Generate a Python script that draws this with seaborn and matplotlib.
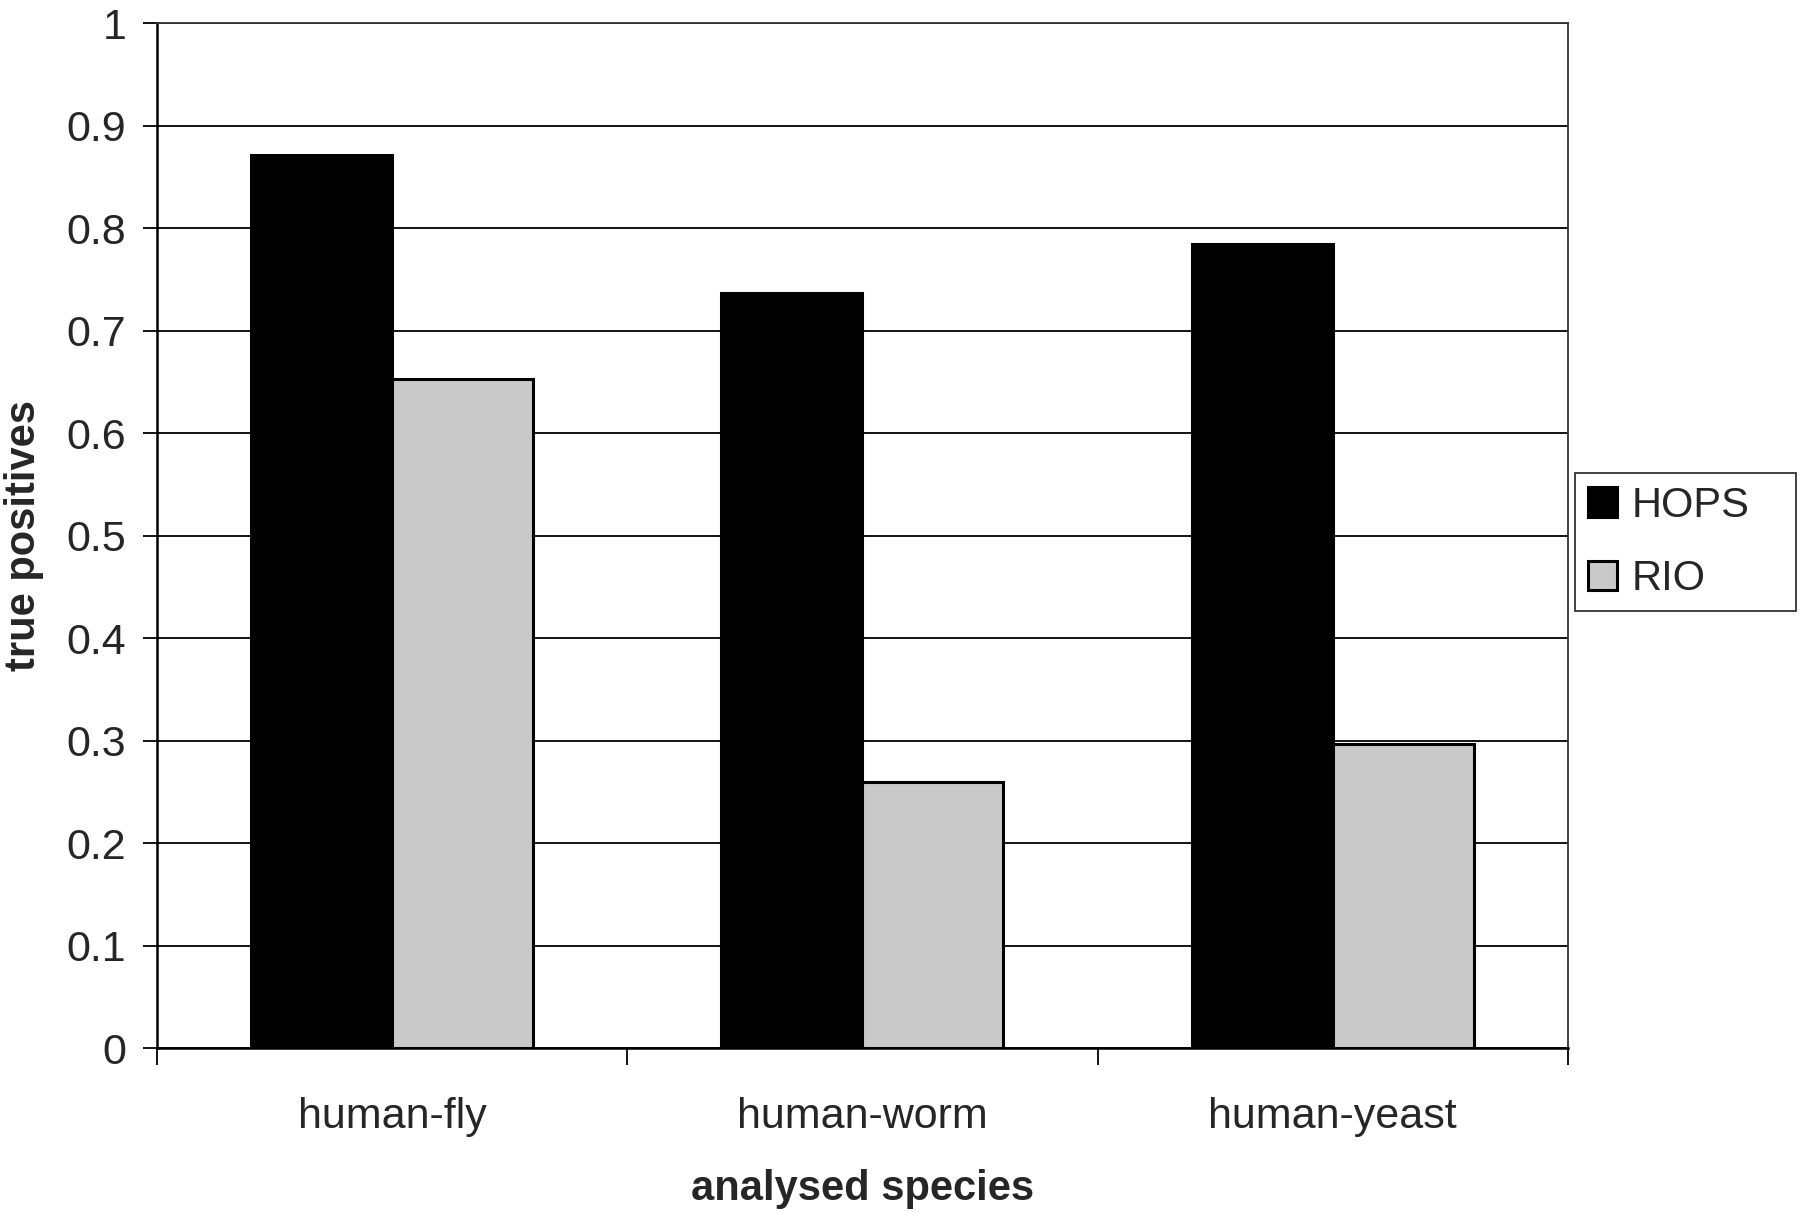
import numpy as np
import pandas as pd
import matplotlib
matplotlib.use("Agg")
import matplotlib.pyplot as plt
import seaborn as sns

species = ["human-fly", "human-worm", "human-yeast"]
methods = ["HOPS", "RIO"]
hops = [0.871, 0.737, 0.784]
rio = [0.653, 0.260, 0.297]
yticks = [0, 0.1, 0.2, 0.3, 0.4, 0.5, 0.6, 0.7, 0.8, 0.9, 1]
ytick_labels = ["0", "0.1", "0.2", "0.3", "0.4", "0.5", "0.6", "0.7", "0.8", "0.9", "1"]

df = pd.DataFrame({
    "species": species * 2,
    "method": ["HOPS"] * 3 + ["RIO"] * 3,
    "tp": hops + rio,
})

sns.set_style("white")
plt.rcParams["font.family"] = ["Liberation Sans", "DejaVu Sans"]
font = 31

fig = plt.figure(figsize=(18, 12.13), dpi=100)
ax = fig.add_axes([0.0872, 0.136, 0.7838, 0.845])

ax.set_axisbelow(True)
for y in yticks:
    ax.axhline(y, color="black", lw=1.3, zorder=0)

sns.barplot(data=df, x="species", y="tp", hue="method", order=species,
            hue_order=methods, palette={"HOPS": "#000000", "RIO": "#c9c9c9"},
            width=0.6, gap=0, edgecolor="black", linewidth=2.2, saturation=1,
            ax=ax, zorder=2)

ax.set_ylim(0, 1)
ax.set_xlim(-0.5, 2.5)
ax.set_yticks(yticks)
ax.set_yticklabels(ytick_labels, fontsize=font)
ax.tick_params(axis="y", left=True, direction="out", length=10, width=1.3,
               color="black", pad=12)
ax.tick_params(axis="x", which="major", bottom=True, length=0, pad=35, labelsize=font)
ax.set_xticks([0.5, 1.5, 2.5, -0.5], minor=True)
ax.tick_params(axis="x", which="minor", bottom=True, direction="out", length=12,
               width=1.3, color="black")

for s in ["left", "bottom"]:
    ax.spines[s].set_color("black")
    ax.spines[s].set_linewidth(1.8)
for s in ["top", "right"]:
    ax.spines[s].set_color("#333333")
    ax.spines[s].set_linewidth(1.3)

ax.set_xlabel("analysed species", fontsize=30, fontweight="bold", labelpad=23)
ax.set_ylabel("true positives", fontsize=30, fontweight="bold", labelpad=16)

handles, labels = ax.get_legend_handles_labels()
ax.get_legend().remove()
leg = fig.legend(handles, labels, loc="center left", mode="expand",
                 bbox_to_anchor=(0.875, 0.553, 0.123, 0),
                 fontsize=30, frameon=True, fancybox=False, edgecolor="black",
                 handlelength=0.7, handleheight=0.7, handletextpad=0.35,
                 labelspacing=0.8, borderpad=0.3, borderaxespad=0)
leg.get_frame().set_linewidth(1.3)

fig.savefig("out.png", dpi=100)
